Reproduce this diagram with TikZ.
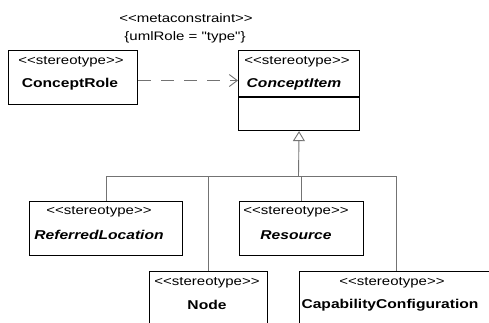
\documentclass[tikz,border=0pt]{standalone}
\usepackage{fontspec}
\newfontfamily\umlf[FakeStretch=1.22]{Liberation Sans}
\usetikzlibrary{arrows.meta}
\begin{document}
\begin{tikzpicture}[x=1pt,y=-1pt,
  box/.style={draw=black, line width=1.1pt, fill=white, inner sep=0pt, anchor=north west},
  st/.style={inner sep=0pt, font=\umlf\fontsize{12.3}{14}\selectfont},
  nm/.style={inner sep=0pt, font=\umlf\fontsize{12.8}{14}\selectfont\bfseries},
  nmi/.style={inner sep=0pt, font=\umlf\fontsize{12.8}{14}\selectfont\bfseries\itshape},
  conn/.style={draw=black!55, line width=0.9pt},
  dep/.style={conn, dash pattern=on 13pt off 10pt, -{Straight Barb[length=8pt,width=12pt]}},
  gen/.style={conn, -{Triangle[open, fill=white, length=10pt, width=12pt]}}
]
\useasboundingbox (0,0) rectangle (489,322);
\clip (0,0) rectangle (489,322);

% ConceptRole
\node[box, minimum width=129pt, minimum height=54pt] (cr) at (8,50) {};
\node[st] (crs) at (71,62) {\textless\textless stereotype\textgreater\textgreater};
\node[nm] (crn) at (70,84) {ConceptRole};

% ConceptItem
\node[box, minimum width=121pt, minimum height=80pt] (ci) at (238,50) {};
\draw[line width=1.1pt] (238,97) -- (359,97);
\node[st] (cis) at (297,62) {\textless\textless stereotype\textgreater\textgreater};
\node[nmi] (cin) at (294,84) {ConceptItem};

% metaconstraint label
\node[st] (mc1) at (186,18) {\textless\textless metaconstraint\textgreater\textgreater};
\node[st] (mc2) at (185,37) {\{umlRole = "type"\}};

% ReferredLocation
\node[box, minimum width=153pt, minimum height=54pt] (rl) at (29,201) {};
\node[st] (rls) at (99,212) {\textless\textless stereotype\textgreater\textgreater};
\node[nmi] (rln) at (99,235) {ReferredLocation};

% Resource
\node[box, minimum width=124pt, minimum height=54pt] (rs) at (239,201) {};
\node[st] (rss) at (296,212) {\textless\textless stereotype\textgreater\textgreater};
\node[nmi] (rsn) at (296,235) {Resource};

% Node
\node[box, minimum width=118pt, minimum height=70pt] (nd) at (149,271) {};
\node[st] (nds) at (207,283) {\textless\textless stereotype\textgreater\textgreater};
\node[nm] (ndn) at (207,305) {Node};

% CapabilityConfiguration
\node[box, minimum width=194pt, minimum height=70pt] (cc) at (299,271) {};
\node[st] (ccs) at (392,283) {\textless\textless stereotype\textgreater\textgreater};
\node[nm] (ccn) at (390,305) {CapabilityConfiguration};

% dependency
\draw[dep] ([yshift=-3pt]cr.east) -- ([yshift=-3pt]cr.east -| ci.west);

% generalization tree
\coordinate (j) at (298.5,176);
\draw[gen] (j) -- (ci.south);
\draw[conn] (rl.north) |- (j);
\draw[conn] (nd.north) |- (j);
\draw[conn] (rs.north) -- (rs.north |- j);
\draw[conn] (cc.north) |- (j);
\end{tikzpicture}
\end{document}
